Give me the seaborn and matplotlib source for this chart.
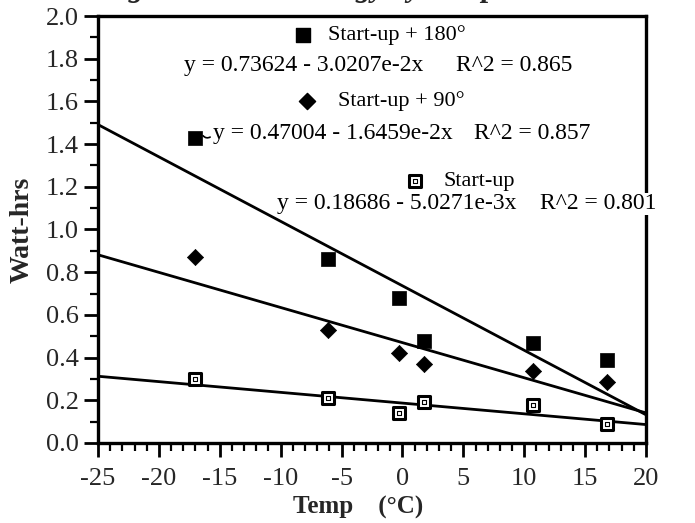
import matplotlib
matplotlib.use("Agg")
import matplotlib.pyplot as plt
import seaborn as sns
import numpy as np
import pandas as pd
from matplotlib.ticker import MultipleLocator

# Measured start-up energy at each ambient temperature
temps = [-17.0, -6.1, -0.3, 1.8, 10.7, 16.8]
energy_180 = [1.43, 0.86, 0.68, 0.48, 0.47, 0.39]
energy_90 = [0.87, 0.53, 0.42, 0.37, 0.335, 0.285]
energy_start = [0.30, 0.21, 0.14, 0.19, 0.18, 0.09]

# Least-squares fits (intercept, slope, R^2)
fit_180 = (0.73624, -3.0207e-2, 0.865)
fit_90 = (0.47004, -1.6459e-2, 0.857)
fit_start = (0.18686, -5.0271e-3, 0.801)

series_names = ["Start-up + 180°", "Start-up + 90°", "Start-up"]
fit_eqs = [
    "y = 0.73624 - 3.0207e-2x",
    "y = 0.47004 - 1.6459e-2x",
    "y = 0.18686 - 5.0271e-3x",
]
fit_r2 = ["R^2 = 0.865", "R^2 = 0.857", "R^2 = 0.801"]

x_ticks = [-25, -20, -15, -10, -5, 0, 5, 10, 15, 20]
y_ticks = [0.0, 0.2, 0.4, 0.6, 0.8, 1.0, 1.2, 1.4, 1.6, 1.8, 2.0]

sns.set_theme(style="ticks")
plt.rcParams["font.family"] = ["Liberation Serif", "DejaVu Serif"]

fig = plt.figure(figsize=(6.95, 5.23), dpi=100)
ax = fig.add_axes([0.141, 0.153, 0.7885, 0.8164])

x_range = np.array([-25.0, 20.0])
fits = [fit_180, fit_90, fit_start]
for b0, b1, _ in fits:
    line_df = pd.DataFrame({"t": x_range, "w": b0 + b1 * x_range})
    sns.lineplot(data=line_df, x="t", y="w", ax=ax, color="black",
                 linewidth=2.0, zorder=2)

df180 = pd.DataFrame({"t": temps, "w": energy_180})
df90 = pd.DataFrame({"t": temps, "w": energy_90})
dfs = pd.DataFrame({"t": temps, "w": energy_start})

sns.scatterplot(data=df180, x="t", y="w", ax=ax, marker="s", s=100,
                color="black", edgecolor="black", linewidth=0.5, zorder=4)
sns.scatterplot(data=df90, x="t", y="w", ax=ax, marker="D", s=68,
                color="black", edgecolor="black", linewidth=0.5, zorder=4)
sns.scatterplot(data=dfs, x="t", y="w", ax=ax, marker="s", s=70,
                color="white", edgecolor="black", linewidth=2.2, zorder=4)
sns.scatterplot(data=dfs, x="t", y="w", ax=ax, marker="s", s=6,
                color="white", edgecolor="black", linewidth=0.8, zorder=5)

ax.set_xlim(-25, 20)
ax.set_ylim(0, 2.0)
ax.set_xticks(x_ticks)
ax.set_yticks(y_ticks)
ax.set_xticklabels([str(v) for v in x_ticks])
ax.set_yticklabels([f"{v:.1f}" for v in y_ticks])
ax.xaxis.set_minor_locator(MultipleLocator(1))
ax.yaxis.set_minor_locator(MultipleLocator(0.1))
ax.tick_params(which="major", direction="out", length=10, width=2,
               labelsize=19, pad=4, color="black")
ax.tick_params(axis="x", which="major", pad=8)
ax.tick_params(which="minor", direction="out", length=6, width=1.6,
               color="black")
for side in ["left", "right", "top", "bottom"]:
    ax.spines[side].set_visible(True)
    ax.spines[side].set_linewidth(2.4)
    ax.spines[side].set_color("black")

ax.set_xlabel("Temp    (°C)", fontsize=18, fontweight="bold", labelpad=0)
ax.xaxis.set_label_coords(0.475, -0.125)
ax.set_ylabel("Watt-hrs", fontsize=20, fontweight="bold", labelpad=8)

box = dict(facecolor="white", edgecolor="none", pad=0.5)
txt = dict(fontsize=17, color="black", zorder=6, clip_on=False, bbox=box)
key = dict(fontsize=16, color="black", zorder=6, clip_on=False, bbox=box)

# Key entries with their fitted equations
ax.scatter([-8.2], [1.91], marker="s", s=100, color="black", zorder=7)
ax.text(-6.1, 1.91, series_names[0], ha="left", va="center", **key)
ax.text(-17.9, 1.77, fit_eqs[0], ha="left", va="center", **txt)
ax.text(4.4, 1.77, fit_r2[0], ha="left", va="center", **txt)

ax.scatter([-7.8], [1.60], marker="D", s=68, color="black", zorder=7)
ax.text(-5.3, 1.60, series_names[1], ha="left", va="center", **key)
ax.text(-15.55, 1.45, fit_eqs[1], ha="left", va="center", **txt)
ax.text(5.9, 1.45, fit_r2[1], ha="left", va="center", **txt)
ax.annotate("", xy=(-16.5, 1.45), xytext=(-15.6, 1.44),
            arrowprops=dict(arrowstyle="-", lw=1.2, color="black",
                            connectionstyle="arc3,rad=-0.6"), zorder=7)

ax.scatter([1.0], [1.225], marker="s", s=70, color="white",
           edgecolor="black", linewidth=2.2, zorder=7)
ax.scatter([1.0], [1.225], marker="s", s=6, color="white",
           edgecolor="black", linewidth=0.8, zorder=8)
ax.text(3.4, 1.225, series_names[2], ha="left", va="center", **key)
ax.text(-10.3, 1.12, fit_eqs[2], ha="left", va="center", **txt)
ax.text(11.3, 1.12, fit_r2[2], ha="left", va="center", **txt)

# Figure heading, running off the top edge of the page
fig.text(0.144, 1.0 + 4.0 / 523, "Figure 4. Start Energy by Temperature",
         fontsize=22, fontweight="bold", fontstyle="italic",
         ha="left", va="baseline")

fig.savefig("out.png", dpi=100)
